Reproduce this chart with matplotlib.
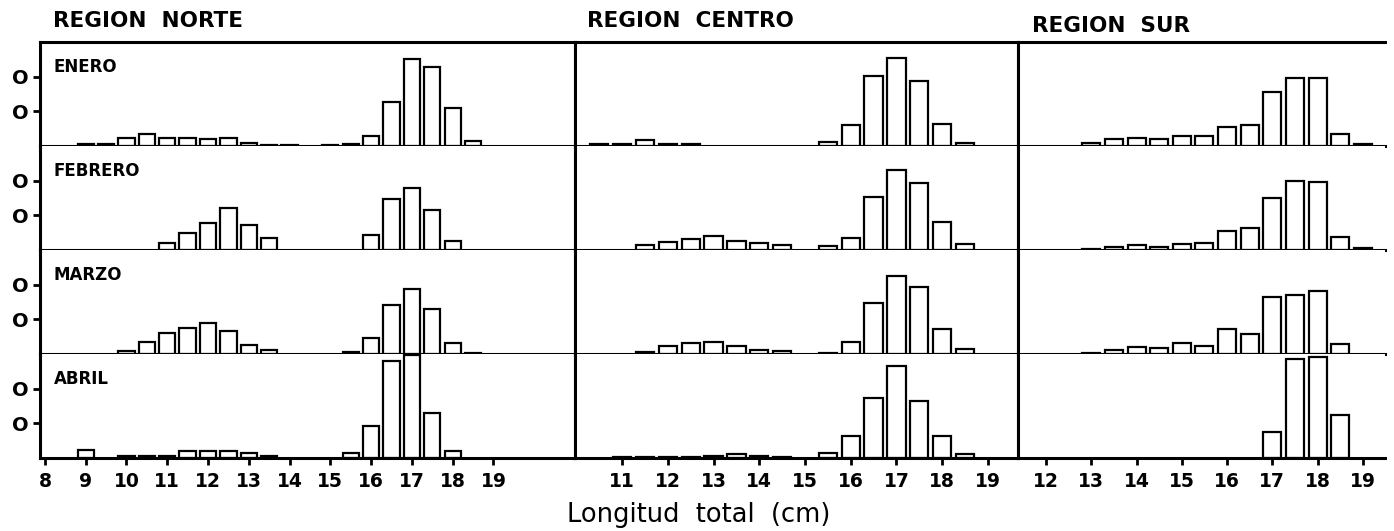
import matplotlib
matplotlib.use('Agg')
import matplotlib.pyplot as plt
import numpy as np

# Bin centers (cm), one every half centimetre from 8 to 19
bins = [8.0, 8.5, 9.0, 9.5, 10.0, 10.5, 11.0, 11.5, 12.0, 12.5, 13.0, 13.5,
        14.0, 14.5, 15.0, 15.5, 16.0, 16.5, 17.0, 17.5, 18.0, 18.5, 19.0]

months = ['ENERO', 'FEBRERO', 'MARZO', 'ABRIL']
regions = ['REGION  NORTE', 'REGION  CENTRO', 'REGION  SUR']

norte_enero = [0, 0, 0.6, 0.5, 2.4, 3.4, 2.4, 2.4, 1.9, 2.4, 0.95, 0.4,
               0.3, 0, 0.3, 0.6, 3.0, 12.7, 25.2, 22.7, 11.0, 1.5, 0]
norte_febrero = [0, 0, 0, 0, 0, 0, 1.9, 4.8, 7.9, 12.1, 7.3, 3.5,
                 0, 0, 0, 0, 4.3, 14.8, 17.9, 11.4, 2.7, 0, 0]
norte_marzo = [0, 0, 0, 0, 0.9, 3.6, 6.0, 7.6, 8.8, 6.7, 2.7, 1.1,
               0, 0, 0, 0.5, 4.5, 14.0, 18.8, 13.0, 3.1, 0.3, 0]
norte_abril = [0, 0, 2.4, 0, 0.7, 0.7, 0.7, 1.9, 1.9, 2.1, 1.5, 0.5,
               0, 0, 0, 1.4, 9.3, 27.9, 29.6, 13.0, 1.9, 0, 0]

centro_enero = [0, 0, 0, 0, 0, 0.7, 0.7, 1.6, 0.7, 0.5, 0, 0,
                0, 0, 0, 1.1, 6.2, 20.3, 25.4, 18.8, 6.4, 1.0, 0]
centro_febrero = [0, 0, 0, 0, 0, 0, 0, 1.4, 2.3, 3.2, 4.0, 2.6,
                  1.9, 1.3, 0, 1.1, 3.6, 15.2, 23.0, 19.4, 8.1, 1.8, 0]
centro_marzo = [0, 0, 0, 0, 0, 0, 0, 0.6, 2.2, 3.3, 3.5, 2.4,
                1.2, 0.8, 0, 0.3, 3.5, 14.6, 22.6, 19.3, 7.3, 1.4, 0]
centro_abril = [0, 0, 0, 0, 0, 0, 0.3, 0.3, 0.3, 0.3, 0.5, 1.2,
                0.5, 0.4, 0, 1.5, 6.3, 17.2, 26.5, 16.3, 6.3, 1.2, 0]

sur_enero = [0, 0, 0, 0, 0, 0, 0, 0, 0, 0, 0.8, 1.9,
             2.3, 1.9, 2.8, 2.8, 5.4, 6.2, 15.6, 19.7, 19.5, 3.5, 0.5]
sur_febrero = [0, 0, 0, 0, 0, 0, 0, 0, 0, 0, 0.4, 0.8,
               1.3, 0.9, 1.8, 2.1, 5.4, 6.3, 15.1, 20.0, 19.7, 3.7, 0.5]
sur_marzo = [0, 0, 0, 0, 0, 0, 0, 0, 0, 0, 0.4, 1.2,
             2.1, 1.7, 3.3, 2.4, 7.1, 5.7, 16.5, 16.9, 18.3, 2.9, 0]
sur_abril = [0, 0, 0, 0, 0, 0, 0, 0, 0, 0, 0, 0,
             0, 0, 0, 0, 0, 0, 7.4, 28.6, 29.1, 12.4, 0]

norte_ticks = [8, 9, 10, 11, 12, 13, 14, 15, 16, 17, 18, 19]
centro_ticks = [11, 12, 13, 14, 15, 16, 17, 18, 19]
sur_ticks = [12, 13, 14, 15, 16, 17, 18, 19]

W, H = 1394, 531


def frac_box(x0, x1, y_top, y_bot):
    """Convert a pixel box into figure fractions [left, bottom, width, height]."""
    return [x0 / W, 1 - y_bot / H, (x1 - x0) / W, (y_bot - y_top) / H]


def draw_panel(ax, values, xlim, is_bottom, ticks, show_y, is_top, right_spine):
    """Draw one histogram cell of the grid."""
    vals = np.array(values, dtype=float)
    centers = np.array(bins)
    keep = vals > 0
    ax.bar(centers[keep], vals[keep], width=0.4, color='white',
           edgecolor='black', linewidth=1.6, zorder=2)
    ax.set_xlim(*xlim)
    ax.set_ylim(0, 30)

    for side in ['left', 'bottom', 'top', 'right']:
        ax.spines[side].set_linewidth(2.2)
    ax.spines['top'].set_visible(is_top)
    ax.spines['right'].set_visible(right_spine)

    if is_bottom:
        ax.set_xticks(ticks)
        ax.set_xticklabels([str(t) for t in ticks], fontsize=13.5, fontweight='bold')
        ax.tick_params(axis='x', direction='out', length=5, width=2, pad=5)
    else:
        ax.set_xticks([])

    if show_y:
        ax.set_yticks([10, 20])
        ax.set_yticklabels(['O', 'O'], fontsize=14, fontweight='bold')
        ax.tick_params(axis='y', direction='out', length=5, width=2, pad=3)
    else:
        ax.set_yticks([])


def main():
    fig = plt.figure(figsize=(W / 100, H / 100), dpi=100)
    plt.rcParams['font.family'] = ['DejaVu Sans']

    columns = [
        (40, 575, (7.88, 21.0), norte_ticks,
         [norte_enero, norte_febrero, norte_marzo, norte_abril]),
        (575, 1018, (9.97, 19.66), centro_ticks,
         [centro_enero, centro_febrero, centro_marzo, centro_abril]),
        (1018, 1385, (11.38, 19.49), sur_ticks,
         [sur_enero, sur_febrero, sur_marzo, sur_abril]),
    ]

    top, row_h = 42, 104
    for c, (x0, x1, xlim, ticks, series) in enumerate(columns):
        for r, values in enumerate(series):
            y_top = top + r * row_h
            ax = fig.add_axes(frac_box(x0, x1, y_top, y_top + row_h))
            draw_panel(ax, values, xlim, r == 3, ticks, c == 0, r == 0, c < 2)
            if c == 0:
                ax.text(0.026, 0.76, months[r], transform=ax.transAxes,
                        fontsize=12, fontweight='bold', ha='left', va='center')

    title_pos = [(53, 21), (587, 21), (1032, 26)]
    for name, (px, py) in zip(regions, title_pos):
        fig.text(px / W, 1 - py / H, name, fontsize=15.5, fontweight='bold',
                 ha='left', va='center')

    fig.text(699 / W, 1 - 515 / H, 'Longitud  total  (cm)', fontsize=18.5,
             ha='center', va='center')

    fig.savefig('out.png', dpi=100)
    plt.close(fig)


if __name__ == '__main__':
    main()
